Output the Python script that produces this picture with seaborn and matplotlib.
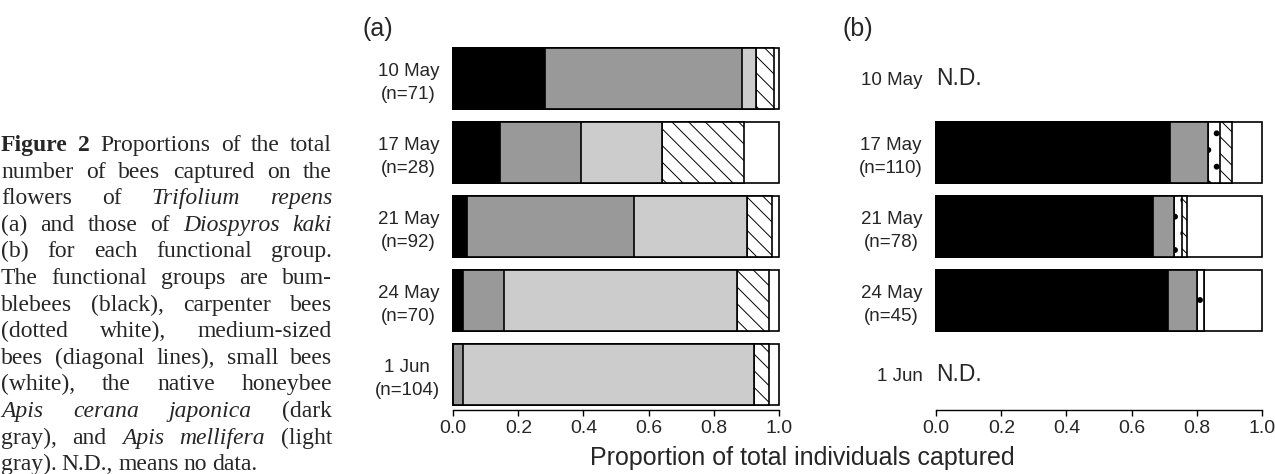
"""
Figure 2: proportions of bees captured on Trifolium repens (a) and Diospyros kaki (b)
by functional group, drawn as stacked horizontal bars.
"""

import pandas as pd
import matplotlib.pyplot as plt
import seaborn as sns

sns.set_theme(style="white")
plt.rcParams["font.family"] = ["Liberation Sans", "DejaVu Sans"]
plt.rcParams["hatch.linewidth"] = 0.7

# === DATA ===
dates = ["10 May", "17 May", "21 May", "24 May", "1 Jun"]
groups = ["Bumblebees", "A. cerana japonica", "A. mellifera",
          "Carpenter bees", "Medium-sized bees", "Small bees"]

# individuals per date (rows) and group (columns)
clover_counts = [
    [20, 43, 3, 0, 4, 1],
    [4, 7, 7, 0, 7, 3],
    [4, 47, 32, 0, 7, 2],
    [2, 9, 50, 0, 7, 2],
    [0, 3, 93, 0, 5, 3],
]
kaki_counts = [
    None,  # N.D.
    [79, 13, 0, 4, 4, 10],
    [52, 5, 0, 2, 1, 18],
    [32, 4, 0, 1, 0, 8],
    None,  # N.D.
]

# === STYLE ===
group_colors = ["#000000", "#999999", "#cccccc", "#ffffff", "#ffffff", "#ffffff"]
group_hatches = [None, None, None, ".", "\\\\", None]
hatch_widths = [0.7, 0.7, 0.7, 1.8, 0.7, 0.7]

caption_lines = [
    "**Figure** **2** Proportions of the total",
    "number of bees captured on the",
    "flowers of *Trifolium* *repens*",
    "(a) and those of *Diospyros* *kaki*",
    "(b) for each functional group.",
    "The functional groups are bum-",
    "blebees (black), carpenter bees",
    "(dotted white), medium-sized",
    "bees (diagonal lines), small bees",
    "(white), the native honeybee",
    "*Apis* *cerana* *japonica* (dark",
    "gray), and *Apis* *mellifera* (light",
    "gray). N.D., means no data.",
]

FIG_W, FIG_H, DPI = 12.75, 4.74, 100


def to_long(counts):
    """Counts table -> long frame with cumulative proportions."""
    rows = []
    for date, row in zip(dates, counts):
        if row is None:
            continue
        n = sum(row)
        cum = 0.0
        for g, c in zip(groups, row):
            cum += c / n
            rows.append({"date": date, "group": g, "cum": cum})
    return pd.DataFrame(rows)


def stacked_panel(ax, counts):
    df = to_long(counts)
    # draw cumulative bars from the right-most group back to the first
    styles = list(zip(groups, group_colors, group_hatches, hatch_widths))
    for g, color, hatch, hlw in reversed(styles):
        sub = df[df["group"] == g]
        with plt.rc_context({"hatch.linewidth": hlw}):
            sns.barplot(data=sub, x="cum", y="date", order=dates, orient="h",
                        color=color, saturation=1, edgecolor="black",
                        linewidth=1.2, hatch=hatch, width=0.82,
                        errorbar=None, ax=ax)
    labels = []
    for date, row in zip(dates, counts):
        labels.append(date if row is None else f"{date}\n(n={sum(row)})")
    ax.set_yticks(range(len(dates)))
    ax.set_yticklabels(labels, fontsize=13.5, linespacing=1.45,
                       multialignment="center")
    ax.tick_params(axis="y", length=0, pad=9)
    ax.tick_params(axis="x", length=4, width=1, labelsize=14, pad=3,
                   direction="out", bottom=True, color="black")
    ax.set_xticks([0, 0.2, 0.4, 0.6, 0.8, 1.0])
    ax.set_xticklabels(["0.0", "0.2", "0.4", "0.6", "0.8", "1.0"])
    ax.set_xlim(-0.004, 1.004)
    ax.set_ylim(4.48, -0.6)
    ax.set_xlabel("")
    ax.set_ylabel("")
    for side in ["left", "top", "right"]:
        ax.spines[side].set_visible(False)
    ax.spines["bottom"].set_bounds(0, 1)
    ax.spines["bottom"].set_linewidth(1.0)
    ax.spines["bottom"].set_color("black")
    for date, row in zip(dates, counts):
        if row is None:
            ax.text(0.0, dates.index(date), "N.D.", fontsize=16.5,
                    ha="left", va="center")


fig = plt.figure(figsize=(FIG_W, FIG_H), dpi=DPI)
ax_a = fig.add_axes([452 / 1275, 1 - 410 / 474, 328 / 1275, 376 / 474])
ax_b = fig.add_axes([935 / 1275, 1 - 410 / 474, 328 / 1275, 376 / 474])
stacked_panel(ax_a, clover_counts)
stacked_panel(ax_b, kaki_counts)

fig.text(362 / 1275, 1 - 29 / 474, "(a)", fontsize=18, va="center")
fig.text(842 / 1275, 1 - 29 / 474, "(b)", fontsize=18, va="center")
fig.text(802 / 1275, 1 - 458 / 474, "Proportion of total individuals captured",
         fontsize=18, ha="center", va="center")


# === CAPTION (justified serif text) ===
def draw_caption(lines, x0_px, x1_px, y0_px, step_px, size=17):
    renderer = fig.canvas.get_renderer()
    for i, line in enumerate(lines):
        y = 1 - (y0_px + i * step_px) / (FIG_H * DPI)
        texts = []
        for word in line.split(" "):
            weight, style = "normal", "normal"
            if word.startswith("**"):
                word, weight = word.strip("*"), "bold"
            elif word.startswith("*"):
                word, style = word.strip("*"), "italic"
            texts.append(fig.text(0, y, word, fontsize=size, weight=weight,
                                  style=style, family="Liberation Serif",
                                  va="baseline", ha="left"))
        widths = [t.get_window_extent(renderer).width for t in texts]
        last = i == len(lines) - 1
        gap = size * 0.3 if last else (x1_px - x0_px - sum(widths)) / (len(texts) - 1)
        x = x0_px
        for t, w in zip(texts, widths):
            t.set_x(x / (FIG_W * DPI))
            x += w + gap


draw_caption(caption_lines, 1, 332, 151, 26.6)

fig.savefig("out.png", dpi=DPI)
